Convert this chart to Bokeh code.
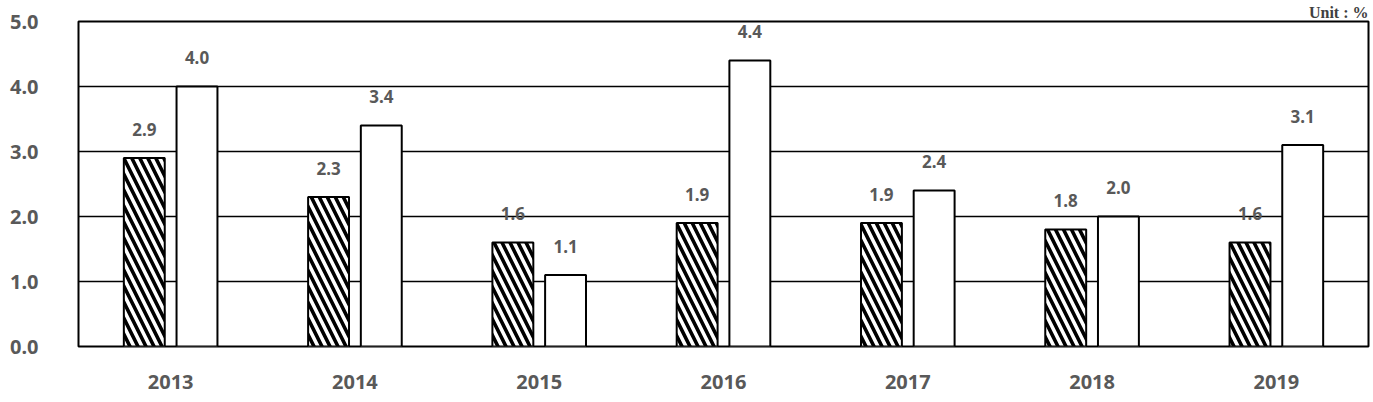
from bokeh.plotting import figure
from bokeh.models import ColumnDataSource, FactorRange, Title, FixedTicker, CustomJSTickFormatter
from bokeh.transform import dodge
from bokeh.embed import file_html
from bokeh.resources import INLINE
from bokeh.core.properties import value

years = ["2013", "2014", "2015", "2016", "2017", "2018", "2019"]
series_a = [2.9, 2.3, 1.6, 1.9, 1.9, 1.8, 1.6]
series_b = [4.0, 3.4, 1.1, 4.4, 2.4, 2.0, 3.1]
y_ticks = [0, 1, 2, 3, 4, 5]

src = ColumnDataSource(dict(
    years=years, a=series_a, b=series_b,
    a_lab=[f"{v:.1f}" for v in series_a],
    b_lab=[f"{v:.1f}" for v in series_b],
))

p = figure(x_range=FactorRange(*years), y_range=(0, 5), width=1373, height=402,
           output_backend="svg", toolbar_location=None,
           min_border_left=78, min_border_right=5, min_border_top=0, min_border_bottom=56)

off = 0.143
w = 0.222
p.vbar(x=dodge("years", -off, range=p.x_range), top="a", width=w, source=src,
       fill_color="white", line_color="black", line_width=2,
       hatch_pattern="left_diagonal_line", hatch_color="black", hatch_weight=3.6, hatch_scale=16)
p.vbar(x=dodge("years", off, range=p.x_range), top="b", width=w, source=src,
       fill_color="white", line_color="black", line_width=2)

tcol = "#595959"
for col, lab, dx in (("a", "a_lab", -off), ("b", "b_lab", off)):
    p.text(x=dodge("years", dx, range=p.x_range), y=col, text=lab, source=src,
           y_offset=-29, text_align="center", text_baseline="middle",
           text_font=value("Noto Sans"), text_font_style="bold",
           text_font_size="17px", text_color=tcol)

p.add_layout(Title(text="Unit : %", align="right", standoff=2,
                   text_font="Liberation Serif", text_font_style="bold",
                   text_font_size="16px", text_color="#404040"), "above")

p.outline_line_color = "black"
p.outline_line_width = 2
p.xgrid.grid_line_color = None
p.ygrid.grid_line_color = "black"
p.ygrid.grid_line_width = 1.5
p.ygrid.ticker = FixedTicker(ticks=y_ticks)

p.yaxis.ticker = FixedTicker(ticks=y_ticks)
p.yaxis.formatter = CustomJSTickFormatter(code="return tick.toFixed(1);")
p.yaxis.axis_line_color = None
p.yaxis.major_tick_line_color = None
p.yaxis.minor_tick_line_color = None
p.yaxis.major_label_standoff = 34
p.xaxis.axis_line_color = None
p.xaxis.major_tick_line_color = None
p.xaxis.major_label_standoff = 22
for ax in (p.xaxis, p.yaxis):
    ax.major_label_text_font = "Noto Sans"
    ax.major_label_text_font_style = "bold"
    ax.major_label_text_font_size = "20px"
    ax.major_label_text_color = tcol

open("out.html", "w").write(file_html(p, INLINE))
